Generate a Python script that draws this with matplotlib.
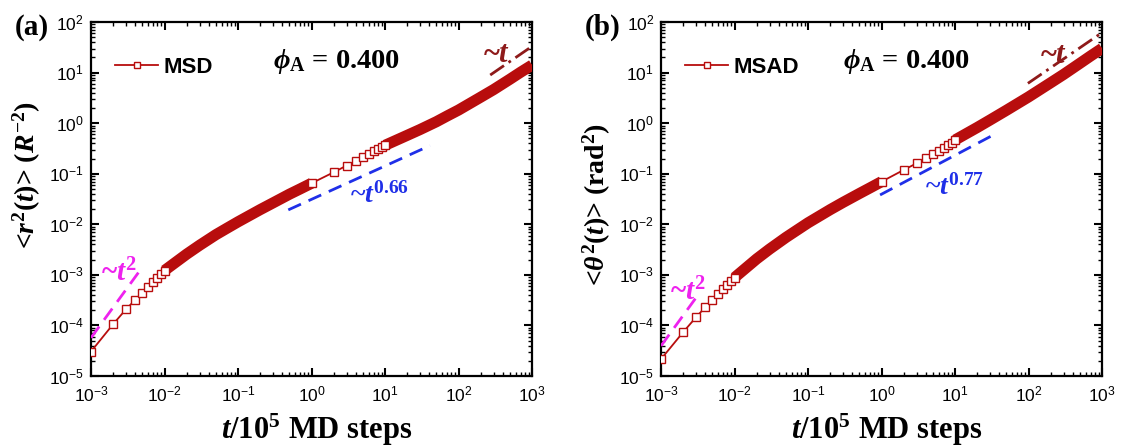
import numpy as np
import matplotlib
matplotlib.use("Agg")
import matplotlib.pyplot as plt
from matplotlib.ticker import LogLocator, FuncFormatter, NullFormatter
from matplotlib.lines import Line2D

plt.rcParams['mathtext.fontset'] = 'custom'
plt.rcParams['mathtext.rm'] = 'Liberation Serif:bold'
plt.rcParams['mathtext.it'] = 'Liberation Serif:italic:bold'
plt.rcParams['mathtext.bf'] = 'Liberation Serif:bold'
plt.rcParams['mathtext.sf'] = 'Liberation Sans'

# ---- data ---------------------------------------------------------------
t_vals = [0.001, 0.002, 0.003, 0.004, 0.005, 0.006, 0.007, 0.008, 0.009, 0.01,
          0.02, 0.03, 0.05, 0.07, 0.1, 0.2, 0.3, 0.5, 0.7,
          1, 2, 3, 4, 5, 6, 7, 8, 9, 10,
          20, 30, 50, 70, 100, 200, 300, 500, 700, 1000]

msd = [3.05e-5, 1.06e-4, 2.10e-4, 3.21e-4, 4.47e-4, 5.87e-4, 7.16e-4, 8.73e-4, 1.03e-3, 1.22e-3,
       2.57e-3, 3.85e-3, 6.24e-3, 8.30e-3, 1.12e-2, 1.95e-2, 2.66e-2, 3.94e-2, 5.01e-2,
       6.49e-2, 0.107, 0.145, 0.177, 0.212, 0.246, 0.279, 0.309, 0.333, 0.366,
       0.575, 0.750, 1.07, 1.39, 1.82, 3.27, 4.62, 7.41, 10.2, 14.1]

msad = [2.16e-5, 7.38e-5, 1.46e-4, 2.30e-4, 3.21e-4, 4.22e-4, 5.28e-4, 6.44e-4, 7.60e-4, 8.85e-4,
        2.07e-3, 3.24e-3, 5.50e-3, 7.60e-3, 1.07e-2, 1.95e-2, 2.72e-2, 4.07e-2, 5.28e-2,
        6.98e-2, 0.119, 0.161, 0.202, 0.243, 0.286, 0.324, 0.366, 0.412, 0.466,
        0.822, 1.16, 1.80, 2.42, 3.31, 6.31, 9.23, 15.3, 21.4, 30.2]

# guide lines (t endpoints, value endpoints)
a_t2_t, a_t2_y = [0.001, 0.0049], [5.7e-5, 1.37e-3]
a_p_t, a_p_y = [0.483, 40.9], [0.0193, 0.361]
a_t1_t, a_t1_y = [270, 1000], [8.97, 33.2]
b_t2_t, b_t2_y = [0.001, 0.0031], [3.95e-5, 3.8e-4]
b_p_t, b_p_y = [0.955, 31.6], [0.0381, 0.564]
b_t1_t, b_t1_y = [98, 1000], [6.14, 62.0]

# ---- style --------------------------------------------------------------
RED = '#B80D0D'
MAG = '#EE22EE'
BLUE = '#1F2FE8'
DRED = '#8E1A1A'
SERIF = 'Liberation Serif'

fig = plt.figure(figsize=(11.21, 4.48), dpi=100)
ax_a = fig.add_axes([0.0812, 0.1607, 0.3934, 0.790])
ax_b = fig.add_axes([0.5897, 0.1607, 0.3934, 0.790])

t_arr = np.array(t_vals)
sparse = (t_arr <= 0.0101) | ((t_arr >= 0.99) & (t_arr <= 10.01))
band1 = (t_arr >= 0.0099) & (t_arr <= 1.001)
band2 = t_arr >= 9.99


def tick_fmt(v, pos):
    return r'$\mathsf{10^{%d}}$' % int(round(np.log10(v)))


def draw(ax, y, label, ylabel, ylab_y, tag):
    y = np.array(y)
    ax.plot(t_arr, y, color=RED, lw=1.3, zorder=3)
    ax.plot(t_arr[band1], y[band1], color=RED, lw=8, solid_capstyle='butt', zorder=4)
    ax.plot(t_arr[band2], y[band2], color=RED, lw=8, solid_capstyle='butt', zorder=4)
    ax.plot(t_arr[sparse], y[sparse], ls='none', marker='s', ms=5.2, mfc='white',
            mec=RED, mew=1.0, zorder=5)

    ax.set_xscale('log')
    ax.set_yscale('log')
    ax.set_xlim(1e-3, 1e3)
    ax.set_ylim(1e-5, 1e2)

    for sp in ax.spines.values():
        sp.set_linewidth(1.6)
    ax.xaxis.set_major_locator(LogLocator(base=10, numticks=20))
    ax.yaxis.set_major_locator(LogLocator(base=10, numticks=20))
    ax.xaxis.set_minor_locator(LogLocator(base=10, subs=np.arange(2, 10), numticks=20))
    ax.yaxis.set_minor_locator(LogLocator(base=10, subs=np.arange(2, 10), numticks=20))
    ax.xaxis.set_major_formatter(FuncFormatter(tick_fmt))
    ax.yaxis.set_major_formatter(FuncFormatter(tick_fmt))
    ax.xaxis.set_minor_formatter(NullFormatter())
    ax.yaxis.set_minor_formatter(NullFormatter())
    ax.tick_params(which='both', direction='in', top=True, right=True, labelsize=12.5)
    ax.tick_params(which='major', length=6, width=1.5)
    ax.tick_params(axis='x', which='major', pad=7)
    ax.tick_params(axis='y', which='major', pad=5)
    ax.tick_params(which='minor', length=3, width=1.0)

    ax.set_xlabel(r'$\mathit{t}\mathrm{/10^{5}\ MD\ steps}$', fontsize=22)
    ax.xaxis.set_label_coords(0.512, -0.153)
    ax.xaxis.label.set_verticalalignment('center')
    ax.set_ylabel(ylabel, fontsize=20, family=SERIF, weight='bold')
    ax.yaxis.set_label_coords(-0.145, ylab_y)
    ax.yaxis.label.set_verticalalignment('center')

    handle = Line2D([], [], color=RED, lw=1.3, marker='s', ms=5, mfc='white', mec=RED, mew=1.0)
    ax.legend([handle], [label], loc='center left', bbox_to_anchor=(0.054, 0.871),
              frameon=False, handlelength=1.95, handletextpad=0.25, borderpad=0,
              borderaxespad=0,
              prop={'family': 'Liberation Sans', 'weight': 'bold', 'size': 16})

    ax.text(0.413, 0.89, r'$\mathit{ϕ}_{\mathrm{A}}$' + ' = 0.400', transform=ax.transAxes,
            family=SERIF, weight='bold', fontsize=20.5, ha='left', va='center')
    ax.text(-0.172, 0.985, tag, transform=ax.transAxes, family=SERIF,
            weight='bold', fontsize=21, ha='left', va='center')


draw(ax_a, msd, 'MSD',
     '<' + r'$\mathit{r}^{\mathrm{2}}\mathrm{(}\mathit{t}\mathrm{)}$' + '> (' +
     r'$\mathit{R}^{\mathrm{-2}}$' + ')',
     0.568, '(a)')
draw(ax_b, msad, 'MSAD',
     '<' + r'$\mathit{θ}^{\mathrm{2}}\mathrm{(}\mathit{t}\mathrm{)}$' + '> (rad' +
     r'$^{\mathrm{2}}$' + ')',
     0.486, '(b)')

# guide lines and scaling labels
for ax, (t2t, t2y), (pt, py), (t1t, t1y) in [
        (ax_a, (a_t2_t, a_t2_y), (a_p_t, a_p_y), (a_t1_t, a_t1_y)),
        (ax_b, (b_t2_t, b_t2_y), (b_p_t, b_p_y), (b_t1_t, b_t1_y))]:
    ax.plot(t2t, t2y, color=MAG, lw=2.0, ls=(0, (5, 3)), zorder=6)
    ax.plot(pt, py, color=BLUE, lw=2.0, ls=(0, (5, 3)), zorder=6)
    ax.plot(t1t, t1y, color=DRED, lw=2.0, ls=(0, (6, 2, 1, 2)), zorder=6)

kw = dict(family=SERIF, weight='bold', ha='left', va='baseline')
ax_a.text(1.37e-3, 7.3e-4, '~' + r'$\mathit{t}^{\mathrm{2}}$', color=MAG, fontsize=21, **kw)
ax_a.text(3.34, 0.0265, '~' + r'$\mathit{t}^{\mathrm{0.66}}$', color=BLUE, fontsize=20, **kw)
ax_a.text(215, 16.2, '~' + r'$\mathit{t}$', color=DRED, fontsize=22, **kw)
ax_b.text(1.33e-3, 3.2e-4, '~' + r'$\mathit{t}^{\mathrm{2}}$', color=MAG, fontsize=21, **kw)
ax_b.text(3.91, 0.0381, '~' + r'$\mathit{t}^{\mathrm{0.77}}$', color=BLUE, fontsize=20, **kw)
ax_b.text(143, 15.5, '~' + r'$\mathit{t}$', color=DRED, fontsize=22, **kw)

fig.savefig('out.png', dpi=100)
